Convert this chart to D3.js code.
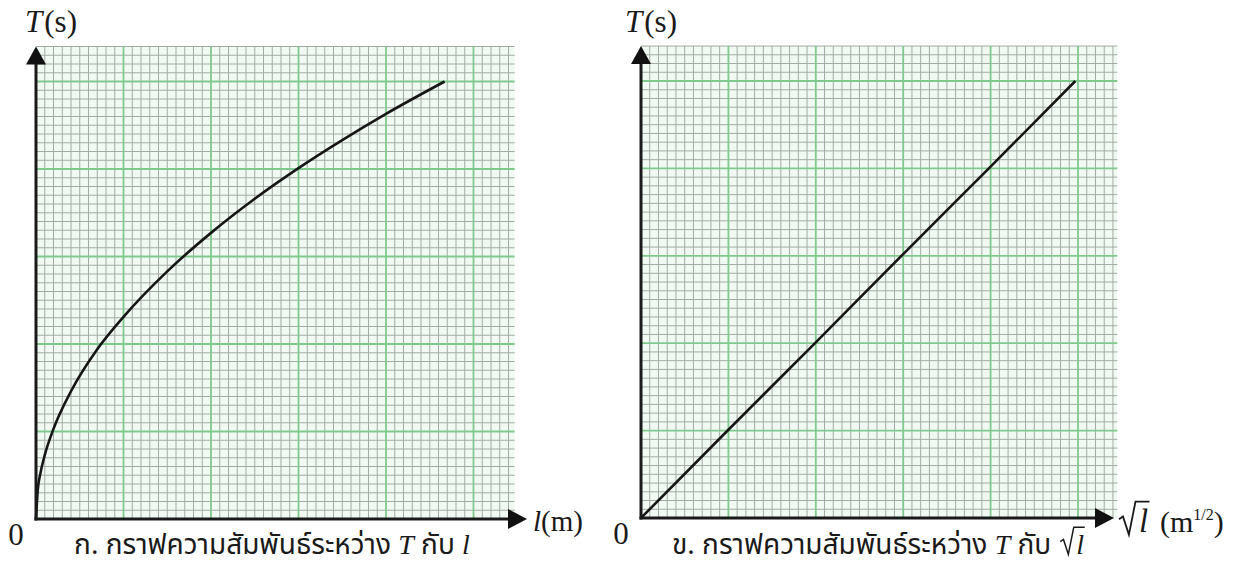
<!DOCTYPE html>
<html>
<head>
<meta charset="utf-8">
<script src="https://cdn.jsdelivr.net/npm/d3@7"></script>
<style>
  html, body { margin: 0; padding: 0; background: #ffffff; }
  svg { display: block; }
  .serif { font-family: "Liberation Serif", "DejaVu Serif", serif; fill: #1a1a1a; }
  .thai { font-family: "Noto Sans Thai", "Noto Sans", "DejaVu Sans", sans-serif; fill: #1a1a1a; }
</style>
</head>
<body>
<svg id="chart" width="1247" height="568"></svg>
<script>
// Panel A: period T against length l (square-root curve)
const lengthL = [0, 0.02, 0.05, 0.1, 0.2, 0.4, 0.7, 1.0, 1.5, 2.0, 2.5, 3.0, 3.5, 4.0, 4.67];
const periodA = [0, 0.33, 0.52, 0.73, 1.03, 1.46, 1.94, 2.31, 2.83, 3.27, 3.66, 4.01, 4.33, 4.63, 5.0];

// Panel B: period T against square root of length (straight line)
const sqrtL   = [0, 1, 2, 3, 4, 4.97];
const periodB = [0, 1.01, 2.01, 3.02, 4.02, 5.0];

// Graph-paper divisions (one major square = 1 unit, ten small squares each)
const majorTicksX = [0, 1, 2, 3, 4, 5];
const majorTicksY = [0, 1, 2, 3, 4, 5];
const minorStep = 0.1;

const svg = d3.select("#chart");

function drawPanel(opt) {
  const g = svg.append("g");
  const x = d3.scaleLinear().domain([0, opt.xMax]).range([opt.x0, opt.x0 + opt.unit * opt.xMax]);
  const y = d3.scaleLinear().domain([0, opt.yMax]).range([opt.y0, opt.y0 - opt.unit * opt.yMax]);

  // paper background
  g.append("rect")
    .attr("x", x(0)).attr("y", y(opt.yMax))
    .attr("width", x(opt.xMax) - x(0)).attr("height", y(0) - y(opt.yMax))
    .attr("fill", "#f1faf2");

  const minorX = d3.range(0, opt.xMax + 1e-9, minorStep).filter(v => Math.abs(v - Math.round(v)) > 1e-6);
  const minorY = d3.range(0, opt.yMax + 1e-9, minorStep).filter(v => Math.abs(v - Math.round(v)) > 1e-6);

  g.append("g").selectAll("line").data(minorX).join("line")
    .attr("x1", d => x(d)).attr("x2", d => x(d))
    .attr("y1", y(0)).attr("y2", y(opt.yMax))
    .attr("stroke", "#a3aba4").attr("stroke-width", 1);
  g.append("g").selectAll("line").data(minorY).join("line")
    .attr("y1", d => y(d)).attr("y2", d => y(d))
    .attr("x1", x(0)).attr("x2", x(opt.xMax))
    .attr("stroke", "#a3aba4").attr("stroke-width", 1);

  g.append("g").selectAll("line").data(majorTicksX.filter(v => v > 0 && v <= opt.xMax)).join("line")
    .attr("x1", d => x(d)).attr("x2", d => x(d))
    .attr("y1", y(0)).attr("y2", y(opt.yMax))
    .attr("stroke", "#80c98e").attr("stroke-width", 1.8);
  g.append("g").selectAll("line").data(majorTicksY.filter(v => v > 0 && v <= opt.yMax)).join("line")
    .attr("y1", d => y(d)).attr("y2", d => y(d))
    .attr("x1", x(0)).attr("x2", x(opt.xMax))
    .attr("stroke", "#80c98e").attr("stroke-width", 1.8);

  // data curve
  const pts = opt.xs.map((v, i) => [v, opt.ys[i]]);
  g.append("path")
    .datum(pts)
    .attr("fill", "none")
    .attr("stroke", "#161616")
    .attr("stroke-width", 2.6)
    .attr("d", d3.line().x(d => x(d[0])).y(d => y(d[1])).curve(d3.curveMonotoneX));

  // axes with arrowheads
  const ax = x(0), ay = y(0);
  const topY = y(opt.yMax);
  g.append("line").attr("x1", ax).attr("x2", ax).attr("y1", ay + 1.5).attr("y2", topY + 10)
    .attr("stroke", "#1a1a1a").attr("stroke-width", 3);
  g.append("line").attr("x1", ax - 1.5).attr("x2", opt.arrowX - 10).attr("y1", ay).attr("y2", ay)
    .attr("stroke", "#1a1a1a").attr("stroke-width", 3);
  g.append("path")
    .attr("d", `M${ax},${topY} L${ax - 10},${topY + 18} L${ax + 10},${topY + 18} Z`)
    .attr("fill", "#111");
  g.append("path")
    .attr("d", `M${opt.arrowX},${ay} L${opt.arrowX - 19},${ay - 10} L${opt.arrowX - 19},${ay + 10} Z`)
    .attr("fill", "#111");

  // axis title T(s)
  const t = g.append("text").attr("class", "serif").attr("x", opt.tLabelX).attr("y", 32).attr("font-size", 31);
  t.append("tspan").attr("font-style", "italic").text("T");
  t.append("tspan").attr("dx", 2).text("(s)");

  // origin label
  g.append("text").attr("class", "serif").attr("x", opt.zeroX).attr("y", ay + 26)
    .attr("font-size", 31).attr("text-anchor", "middle").text("0");

  return { g, x, y };
}

// ---------- Panel A ----------
const A = drawPanel({
  x0: 36, y0: 519, unit: 87.5, xMax: 5.47, yMax: 5.4,
  xs: lengthL, ys: periodA, arrowX: 527, tLabelX: 25, zeroX: 16
});
{
  const tl = A.g.append("text").attr("class", "serif").attr("x", 533).attr("y", 531).attr("font-size", 29);
  tl.append("tspan").attr("font-style", "italic").text("l");
  tl.append("tspan").text("(m)");

  const cap = A.g.append("text").attr("class", "thai").attr("x", 272).attr("y", 554)
    .attr("font-size", 28).attr("text-anchor", "middle");
  cap.append("tspan").text("ก. กราฟความสัมพันธ์ระหว่าง ");
  cap.append("tspan").attr("font-family", "Liberation Serif").attr("font-style", "italic").text("T");
  cap.append("tspan").text(" กับ ");
  cap.append("tspan").attr("font-family", "Liberation Serif").attr("font-style", "italic").text("l");
}

// ---------- Panel B ----------
const B = drawPanel({
  x0: 641, y0: 518, unit: 87.4, xMax: 5.45, yMax: 5.4,
  xs: sqrtL, ys: periodB, arrowX: 1114, tLabelX: 625, zeroX: 621
});

// radical sign drawn as a path over a letter
function radical(g, xStart, baseline, size, letterWidth) {
  const s = size;
  const p = d3.path();
  p.moveTo(xStart, baseline - 0.42 * s);
  p.lineTo(xStart + 0.12 * s, baseline - 0.5 * s);
  p.lineTo(xStart + 0.3 * s, baseline + 0.05 * s);
  p.lineTo(xStart + 0.5 * s, baseline - 0.95 * s);
  p.lineTo(xStart + 0.5 * s + letterWidth, baseline - 0.95 * s);
  g.append("path").attr("d", p.toString()).attr("fill", "none")
    .attr("stroke", "#1a1a1a").attr("stroke-width", Math.max(1.3, s * 0.055)).attr("stroke-linejoin", "miter");
}

{
  radical(B.g, 1119, 533, 33, 14);
  B.g.append("text").attr("class", "serif").attr("x", 1139).attr("y", 532)
    .attr("font-size", 33).attr("font-style", "italic").text("l");
  const u = B.g.append("text").attr("class", "serif").attr("x", 1160).attr("y", 532).attr("font-size", 30);
  u.append("tspan").text("(m");
  u.append("tspan").attr("font-size", 16).attr("dy", -12).text("1/2");
  u.append("tspan").attr("dy", 12).text(")");

  const cap = B.g.append("text").attr("class", "thai").attr("x", 672).attr("y", 554)
    .attr("font-size", 28);
  cap.append("tspan").text("ข. กราฟความสัมพันธ์ระหว่าง ");
  cap.append("tspan").attr("font-family", "Liberation Serif").attr("font-style", "italic").text("T");
  cap.append("tspan").text(" กับ ");
  const node = cap.node();
  const bb = node.getBBox();
  const rx = bb.x + bb.width + 9;
  radical(B.g, rx, 553, 27, 11);
  B.g.append("text").attr("class", "serif").attr("x", rx + 16).attr("y", 554)
    .attr("font-size", 28).attr("font-style", "italic").text("l");
}
</script>
</body>
</html>
